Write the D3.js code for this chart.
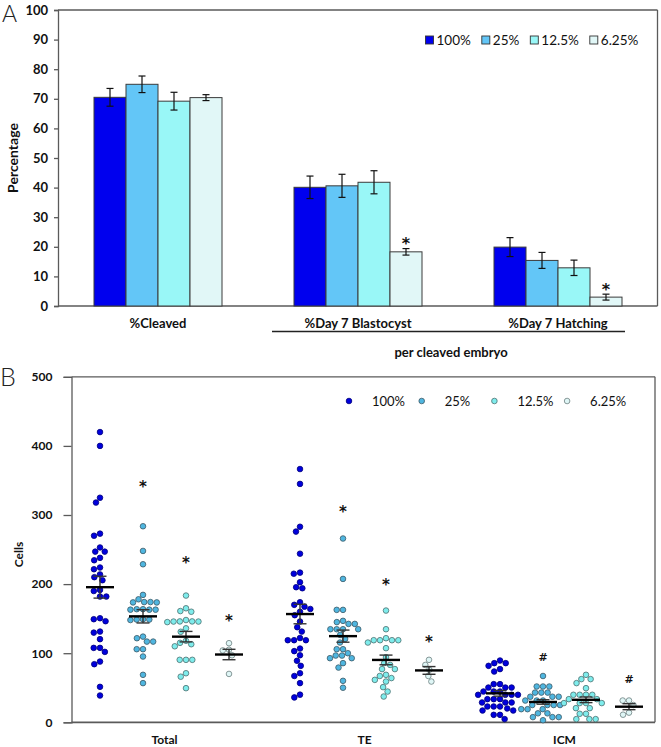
<!DOCTYPE html>
<html><head><meta charset="utf-8">
<script src="https://cdn.jsdelivr.net/npm/d3@7"></script>
<style>
body{margin:0;background:#fff}
svg{display:block}
text{font-family:Lato,"Open Sans",sans-serif;fill:#111}
text.sig{font-family:"DejaVu Sans",sans-serif;fill:#111}
</style>
</head><body>
<svg id="c" width="661" height="747"></svg>
<script>
// ---------- shared ----------
const series = ["100%", "25%", "12.5%", "6.25%"];
const barColors = ["#0000ee", "#63c6f7", "#99f7f7", "#e1f7f7"];
const dotFill = ["#0000dd", "#4fb6e0", "#7eecec", "#dff6f6"];
const dotStroke = ["#00007a", "#3d5966", "#4d7070", "#6d8080"];

// ---------- panel A data ----------
const categoriesA = ["%Cleaved", "%Day 7 Blastocyst", "%Day 7 Hatching"];
const cleavedMean = [70.5, 74.9, 69.2, 70.4];
const cleavedSem  = [3.0, 2.8, 3.0, 1.0];
const blastMean   = [40.1, 40.6, 41.8, 18.3];
const blastSem    = [3.8, 3.9, 3.9, 1.1];
const hatchMean   = [19.9, 15.4, 12.9, 3.0];
const hatchSem    = [3.2, 2.7, 2.6, 1.0];
const yTicksA = [0, 10, 20, 30, 40, 50, 60, 70, 80, 90, 100];
const sigCatA = ["%Day 7 Blastocyst", "%Day 7 Hatching"];
const sigSerA = ["6.25%", "6.25%"];
const sigValA = [22.3, 6.8];

// ---------- panel B data ----------
const groupsB = ["Total", "TE", "ICM"];
const total100 = [420,400,325,318,273,270,253,247,247,238,234.5,224,221.5,214,210,205.6,191.6,190,182,182,150.6,149.2,146.3,131.3,129.8,120.3,107.7,107.7,101.9,87.9,84.1,51.3,38.8];
const total25  = [283.7,248,228.7,184.4,178,174,174,173.5,173.5,163.7,163.7,163,163,163,149,148.7,148.7,148,124,121.7,116.8,116.8,105.8,105.8,95.2,68.7,56.7];
const total12  = [183.4,165,161,160,148,146,146,145.8,145.8,145,136,131,118,115,113,110,90.4,90.4,90.4,71,66,49.4];
const total6   = [114.5,105,104,97,70];
const te100 = [366.5,345,283,276,244,216.6,215,202.7,195.5,194,173.8,170,167.4,164,160,155,145.8,137.6,131.3,122,118.8,118.8,118.8,106.7,103,97,89,81.7,71,67,56.7,40,36];
const te25  = [266,207.5,162.7,162.7,146.8,145,142.4,142.4,134.7,134.7,134.7,134.7,126.5,120.7,115.4,105.8,105.8,100,96.6,96.6,92.8,92.8,85.6,79.2,60,50];
const te12  = [161.7,134.7,121.7,118.8,118.8,118.8,118.8,115.4,107.3,94.3,85.6,83,77,77,68.7,67,64,61.4,59,50.9,44.5,37.3];
const te6   = [90.4,83,76,67,59];
const icm100 = [89.4,85.6,85.6,81.7,77,73.5,55.2,55.2,50.3,50.3,50.3,44.6,44.6,44.6,39.8,39.8,39.8,39.8,33.5,33.5,33.5,28.7,28.7,28.7,22.9,22.9,22.9,20,17.1,17.1,10.8,10.8,4.6];
const icm25  = [67,51.8,51.8,51.8,43,43,43,37,37,37,31.5,31.5,31.5,25,25,25,25,19,19,19,13,13,7.5,7.5,7.5,3];
const icm12  = [68.7,62.5,62.5,56.7,49.4,39.8,39.8,39.8,39.8,33.5,33.5,27.8,27.8,27.8,27.8,20.5,20.5,12.3,12.3,4.6,4.6,4.6];
const icm6   = [31.5,31.5,25,14,11];
const yTicksB = [0, 100, 200, 300, 400, 500];
const sigGroupB = ["Total","Total","Total","TE","TE","TE","ICM","ICM"];
const sigSerB   = ["25%","12.5%","6.25%","25%","12.5%","6.25%","25%","6.25%"];
const sigValB   = [346, 237, 152, 310, 205, 122, 95, 62];
const sigMarkB  = ["*","*","*","*","*","*","#","#"];

// ---------- build ----------
const svg = d3.select("#c");
const axisColor = "#5a5a5a";

// ===== Panel A =====
const A = {left: 58, right: 657.5, top: 10, bottom: 306};
const yA = d3.scaleLinear().domain([0, 100]).range([A.bottom, A.top]);
const xA = d3.scaleBand().domain(categoriesA).range([A.left, A.left + 600]);
const xAin = d3.scaleBand().domain(series).range([0, xA.bandwidth()]).paddingInner(0).paddingOuter(1.125);
const meansA = [cleavedMean, blastMean, hatchMean];
const semsA = [cleavedSem, blastSem, hatchSem];
const barsData = [];
categoriesA.forEach((c, ci) => series.forEach((s, si) => barsData.push({c, s, si, m: meansA[ci][si], e: semsA[ci][si]})));

svg.append("text").attr("x", 2).attr("y", 22).attr("font-size", 23).attr("font-weight", 300).style("fill", "#222").text("A");

const gA = svg.append("g");
gA.append("g").attr("transform", `translate(${A.left},0)`)
  .call(d3.axisLeft(yA).tickValues(yTicksA).tickSize(4).tickPadding(6))
  .call(g => g.selectAll("path,line").attr("stroke", axisColor).attr("stroke-width", 1.3))
  .call(g => g.selectAll("text").attr("font-size", 13).attr("font-weight", 700).style("font-family", "Lato"));
gA.append("line").attr("x1", A.left).attr("x2", A.right).attr("y1", A.top).attr("y2", A.top).attr("stroke", axisColor).attr("stroke-width", 1.3);
gA.append("line").attr("x1", A.right).attr("x2", A.right).attr("y1", A.top).attr("y2", A.bottom).attr("stroke", axisColor).attr("stroke-width", 1.3);
gA.append("line").attr("x1", A.left).attr("x2", A.right).attr("y1", A.bottom).attr("y2", A.bottom).attr("stroke", axisColor).attr("stroke-width", 1.5);

gA.selectAll("rect.bar").data(barsData).join("rect").attr("class", "bar")
  .attr("x", d => xA(d.c) + xAin(d.s)).attr("width", xAin.bandwidth())
  .attr("y", d => yA(d.m)).attr("height", d => yA(0) - yA(d.m))
  .attr("fill", d => barColors[d.si]).attr("stroke", "#3a3a3a").attr("stroke-width", 1);
const eb = gA.selectAll("g.eb").data(barsData).join("g").attr("class", "eb")
  .attr("transform", d => `translate(${xA(d.c) + xAin(d.s) + xAin.bandwidth() / 2},0)`);
eb.append("line").attr("y1", d => yA(d.m + d.e)).attr("y2", d => yA(d.m - d.e)).attr("stroke", "#111").attr("stroke-width", 1.2);
eb.append("line").attr("x1", -3.5).attr("x2", 3.5).attr("y1", d => yA(d.m + d.e)).attr("y2", d => yA(d.m + d.e)).attr("stroke", "#111").attr("stroke-width", 1.2);
eb.append("line").attr("x1", -3.5).attr("x2", 3.5).attr("y1", d => yA(d.m - d.e)).attr("y2", d => yA(d.m - d.e)).attr("stroke", "#111").attr("stroke-width", 1.2);

sigCatA.forEach((c, i) => {
  gA.append("text").attr("class", "sig").attr("x", xA(c) + xAin(sigSerA[i]) + xAin.bandwidth() / 2)
    .attr("y", yA(sigValA[i]) + 9.5).attr("text-anchor", "middle")
    .attr("font-size", 16).attr("font-weight", 700).text("*");
});

categoriesA.forEach(c => {
  gA.append("text").attr("x", xA(c) + xA.bandwidth() / 2).attr("y", 327.5).attr("text-anchor", "middle")
    .attr("font-size", 13).attr("font-weight", 700).text(c);
});
gA.append("line").attr("x1", 272).attr("x2", 625).attr("y1", 331.5).attr("y2", 331.5).attr("stroke", "#222").attr("stroke-width", 1.5);
gA.append("text").attr("x", 451).attr("y", 356.5).attr("text-anchor", "middle").attr("font-size", 13).attr("font-weight", 700).text("per cleaved embryo");
gA.append("text").attr("transform", `translate(18,${(A.top + A.bottom) / 2}) rotate(-90)`).attr("text-anchor", "middle")
  .attr("font-size", 14).attr("font-weight", 700).text("Percentage");

let lx = 425.5;
series.forEach((s, i) => {
  gA.append("rect").attr("x", lx).attr("y", 36).attr("width", 8).attr("height", 8).attr("fill", barColors[i]).attr("stroke", "#333").attr("stroke-width", 0.9);
  const t = gA.append("text").attr("x", lx + 11).attr("y", 45).attr("font-size", 13.5).text(s);
  lx += 11 + t.node().getComputedTextLength() + 11;
});

// ===== Panel B =====
const B = {left: 71.5, right: 655, top: 376.8, bottom: 722.3};
const yB = d3.scaleLinear().domain([0, 500]).range([B.bottom, B.top]);
const xB = d3.scalePoint().domain(groupsB).range([B.left + 93, B.left + 493]);
const xBin = d3.scalePoint().domain(series).range([-64.5, 64.5]);
const dataB = {
  "Total": [total100, total25, total12, total6],
  "TE": [te100, te25, te12, te6],
  "ICM": [icm100, icm25, icm12, icm6]
};

svg.append("text").attr("x", 0).attr("y", 386).attr("font-size", 25).attr("font-weight", 300).style("fill", "#222").text("B");

const gB = svg.append("g");
gB.append("g").attr("transform", `translate(${B.left},0)`)
  .call(d3.axisLeft(yB).tickValues(yTicksB).tickSize(8).tickPadding(11))
  .call(g => g.selectAll("path,line").attr("stroke", axisColor).attr("stroke-width", 1.3))
  .call(g => g.selectAll("text").attr("font-size", 12).attr("font-weight", 700).style("font-family", "Lato"));
gB.append("line").attr("x1", B.left).attr("x2", B.right).attr("y1", B.top).attr("y2", B.top).attr("stroke", axisColor).attr("stroke-width", 1.3);
gB.append("line").attr("x1", B.right).attr("x2", B.right).attr("y1", B.top).attr("y2", B.bottom).attr("stroke", axisColor).attr("stroke-width", 1.3);
gB.append("line").attr("x1", B.left).attr("x2", B.right).attr("y1", B.bottom).attr("y2", B.bottom).attr("stroke", axisColor).attr("stroke-width", 1.8);

gB.append("text").attr("transform", `translate(23,${(B.top + B.bottom) / 2 + 5}) rotate(-90)`).attr("text-anchor", "middle")
  .attr("font-size", 12).attr("font-weight", 700).text("Cells");

function swarm(values, d) {
  const pts = values.map(v => ({v, y: yB(v)})).sort((a, b) => a.y - b.y);
  const placed = [];
  for (const p of pts) {
    const blocked = [];
    for (const q of placed) {
      const dy = Math.abs(q.y - p.y);
      if (dy < d) { const dx = Math.sqrt(d * d - dy * dy); blocked.push([q.x - dx, q.x + dx]); }
    }
    const cands = [0];
    blocked.forEach(b => cands.push(b[0], b[1]));
    cands.sort((a, b) => Math.abs(a) - Math.abs(b) || a - b);
    for (const c of cands) {
      if (blocked.every(b => c <= b[0] + 1e-6 || c >= b[1] - 1e-6)) { p.x = c; break; }
    }
    placed.push(p);
  }
  return placed;
}

groupsB.forEach(g => {
  series.forEach((s, si) => {
    const vals = dataB[g][si];
    const cx = xB(g) + xBin(s);
    const pts = swarm(vals, 6.3);
    gB.append("g").selectAll("circle").data(pts).join("circle")
      .attr("cx", d => cx + d.x).attr("cy", d => d.y).attr("r", 2.8)
      .attr("fill", dotFill[si]).attr("stroke", dotStroke[si]).attr("stroke-width", 0.8);
  });
});
groupsB.forEach(g => {
  series.forEach((s, si) => {
    const vals = dataB[g][si];
    const cx = xB(g) + xBin(s);
    const m = d3.mean(vals);
    const sem = d3.deviation(vals) / Math.sqrt(vals.length);
    const eg = gB.append("g");
    eg.append("line").attr("x1", cx).attr("x2", cx).attr("y1", yB(m + sem)).attr("y2", yB(m - sem)).attr("stroke", "#333").attr("stroke-width", 1.4);
    eg.append("line").attr("x1", cx - 6.5).attr("x2", cx + 6.5).attr("y1", yB(m + sem)).attr("y2", yB(m + sem)).attr("stroke", "#333").attr("stroke-width", 1.4);
    eg.append("line").attr("x1", cx - 6.5).attr("x2", cx + 6.5).attr("y1", yB(m - sem)).attr("y2", yB(m - sem)).attr("stroke", "#333").attr("stroke-width", 1.4);
    eg.append("line").attr("x1", cx - 14).attr("x2", cx + 14).attr("y1", yB(m)).attr("y2", yB(m)).attr("stroke", "#000").attr("stroke-width", 2.4);
  });
});

sigGroupB.forEach((g, i) => {
  const isStar = sigMarkB[i] === "*";
  gB.append("text").attr("class", "sig").attr("x", xB(g) + xBin(sigSerB[i])).attr("y", yB(sigValB[i]) + (isStar ? 9 : 4))
    .attr("text-anchor", "middle").attr("font-size", isStar ? 15 : 11).attr("font-weight", 700).text(sigMarkB[i]);
});

groupsB.forEach(g => {
  gB.append("text").attr("x", xB(g)).attr("y", 744).attr("text-anchor", "middle").attr("font-size", 12).attr("font-weight", 700).text(g);
});

series.forEach((s, i) => {
  const x0 = 349 + i * 72.7;
  gB.append("circle").attr("cx", x0).attr("cy", 401).attr("r", 2.8).attr("fill", dotFill[i]).attr("stroke", dotStroke[i]).attr("stroke-width", 0.8);
  gB.append("text").attr("x", x0 + 23).attr("y", 405.5).attr("font-size", 13).text(s);
});
</script>
</body></html>
